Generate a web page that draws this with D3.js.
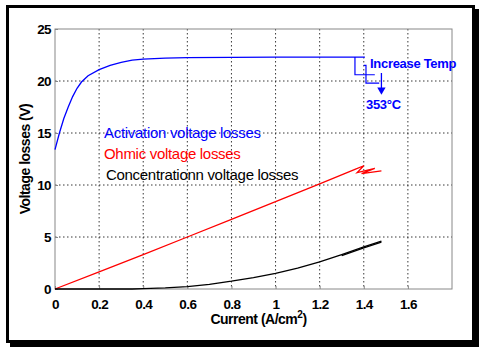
<!DOCTYPE html>
<html>
<head>
<meta charset="utf-8">
<script src="https://cdn.jsdelivr.net/npm/d3@7"></script>
<style>
  body { margin: 0; background: #fff; }
  svg text { font-family: "Liberation Sans", Arial, sans-serif; }
  .tick-label { font-weight: bold; font-size: 13.5px; letter-spacing: -0.6px; }
  .axis-title { font-weight: bold; font-size: 14px; letter-spacing: -0.5px; }
  .legend-text { font-size: 15px; letter-spacing: -0.3px; }
  .note { font-weight: bold; font-size: 13px; letter-spacing: -0.3px; }
</style>
</head>
<body>
<svg id="chart"></svg>
<script>
// current density (A/cm^2) and voltage losses (V)
const activationX = [0, 0.02, 0.04, 0.06, 0.08, 0.1, 0.12, 0.15, 0.2, 0.25, 0.3, 0.35, 0.4, 0.5, 0.6, 0.8, 1.0, 1.2, 1.405];
const activationY = [13.4, 15.0, 16.4, 17.5, 18.5, 19.3, 19.9, 20.5, 21.1, 21.5, 21.8, 22.0, 22.1, 22.2, 22.25, 22.28, 22.3, 22.3, 22.3];
// little step tails of the higher-temperature curves
const activationTail1X = [1.36, 1.36, 1.45];
const activationTail1Y = [22.3, 20.6, 20.6];
const activationTail2X = [1.40, 1.41, 1.41, 1.47];
const activationTail2Y = [21.5, 21.5, 19.8, 19.8];

const ohmicX = [0, 0.2, 0.4, 0.6, 0.8, 1.0, 1.2, 1.36, 1.40, 1.37, 1.45, 1.39, 1.48];
const ohmicY = [0, 1.65, 3.3, 5.0, 6.7, 8.4, 10.1, 11.5, 11.85, 11.2, 11.6, 11.1, 11.35];

const concX = [0, 0.35, 0.4, 0.5, 0.6, 0.7, 0.8, 0.9, 1.0, 1.1, 1.2, 1.3, 1.4, 1.48];
const concY = [0, 0, 0.03, 0.1, 0.22, 0.45, 0.75, 1.1, 1.5, 2.0, 2.6, 3.3, 4.05, 4.6];

const xTicks = [0, 0.2, 0.4, 0.6, 0.8, 1, 1.2, 1.4, 1.6];
const yTicks = [0, 5, 10, 15, 20, 25];

const legendItems = [
  {label: 'Activation voltage losses', color: '#0000ff'},
  {label: 'Ohmic voltage losses', color: '#ff0000'},
  {label: 'Concentrationn voltage losses', color: '#000000'}
];

const width = 480, height = 351;
const margin = {top: 29, right: 28, bottom: 62, left: 55};
const innerW = width - margin.left - margin.right;
const innerH = height - margin.top - margin.bottom;

const svg = d3.select('#chart')
  .attr('width', width)
  .attr('height', height);

// framed box with a shadow on the right / bottom
svg.append('rect')
  .attr('x', 10).attr('y', 9)
  .attr('width', 469).attr('height', 338)
  .attr('fill', '#000');
svg.append('rect')
  .attr('x', 7.5).attr('y', 6.5)
  .attr('width', 466).attr('height', 335)
  .attr('fill', '#fff')
  .attr('stroke', '#000')
  .attr('stroke-width', 3);

const x = d3.scaleLinear().domain([0, 1.8]).range([0, innerW]);
const y = d3.scaleLinear().domain([0, 25]).range([innerH, 0]);

const g = svg.append('g')
  .attr('transform', `translate(${margin.left},${margin.top})`);

// grid
g.append('g')
  .selectAll('line')
  .data(xTicks.filter(d => d > 0))
  .join('line')
  .attr('x1', d => x(d)).attr('x2', d => x(d))
  .attr('y1', 0).attr('y2', innerH)
  .attr('stroke', '#222')
  .attr('stroke-width', 0.9)
  .attr('stroke-dasharray', '1.5,2.5');

g.append('g')
  .selectAll('line')
  .data(yTicks.filter(d => d > 0 && d < 25))
  .join('line')
  .attr('x1', 0).attr('x2', innerW)
  .attr('y1', d => y(d)).attr('y2', d => y(d))
  .attr('stroke', '#222')
  .attr('stroke-width', 0.9)
  .attr('stroke-dasharray', '1.5,2.5');

// plot box
g.append('rect')
  .attr('width', innerW).attr('height', innerH)
  .attr('fill', 'none')
  .attr('stroke', '#888')
  .attr('stroke-width', 1);

// axes
const xAxis = g.append('g')
  .attr('transform', `translate(0,${innerH})`)
  .call(d3.axisBottom(x).tickValues(xTicks).tickSize(-3).tickPadding(7)
    .tickFormat(d => d3.format('~g')(d)));
const yAxis = g.append('g')
  .call(d3.axisLeft(y).tickValues(yTicks).tickSize(-3).tickPadding(4));

[xAxis, yAxis].forEach(a => {
  a.select('.domain').remove();
  a.selectAll('.tick line').attr('stroke', '#888');
  a.selectAll('.tick text')
    .attr('class', 'tick-label')
    .attr('fill', '#000');
});
xAxis.selectAll('.tick text').attr('dy', '0.95em');

// axis titles
const xTitle = svg.append('text')
  .attr('class', 'axis-title')
  .attr('x', margin.left + x(0.9) + 5)
  .attr('y', 324)
  .attr('text-anchor', 'middle');
xTitle.append('tspan').text('Current (A/cm');
xTitle.append('tspan').attr('dy', -6).attr('font-size', 10).text('2');
xTitle.append('tspan').attr('dy', 6).text(')');

svg.append('text')
  .attr('class', 'axis-title')
  .attr('transform', `translate(30,${margin.top + y(12.5)}) rotate(-90)`)
  .attr('text-anchor', 'middle')
  .text('Voltage losses (V)');

// curves
const line = d3.line()
  .x(d => x(d[0]))
  .y(d => y(d[1]));

const zip = (xs, ys) => xs.map((v, i) => [v, ys[i]]);

const curves = [
  {pts: zip(activationX, activationY), color: '#0000ff', w: 1.3},
  {pts: zip(activationTail1X, activationTail1Y), color: '#0000ff', w: 1.2},
  {pts: zip(activationTail2X, activationTail2Y), color: '#0000ff', w: 1.2},
  {pts: zip(ohmicX, ohmicY), color: '#ff0000', w: 1.3},
  {pts: zip(concX, concY), color: '#000000', w: 1.3},
  {pts: zip(concX.slice(11), concY.slice(11).map(v => v - 0.1)), color: '#000000', w: 1.3}
];

g.selectAll('.curve')
  .data(curves)
  .join('path')
  .attr('class', 'curve')
  .attr('d', d => line(d.pts))
  .attr('fill', 'none')
  .attr('stroke', d => d.color)
  .attr('stroke-width', d => d.w);

// legend labels
svg.selectAll('.legend-text')
  .data(legendItems)
  .join('text')
  .attr('class', 'legend-text')
  .attr('x', (d, i) => i === 2 ? 106 : 104)
  .attr('y', (d, i) => 138 + i * 21)
  .attr('fill', d => d.color)
  .text(d => d.label);

// temperature annotation
svg.append('text')
  .attr('class', 'note')
  .attr('x', 370).attr('y', 68)
  .attr('fill', '#0000ff')
  .text('Increase Temp');

svg.append('line')
  .attr('x1', margin.left + x(1.48)).attr('x2', margin.left + x(1.48))
  .attr('y1', 73).attr('y2', 88)
  .attr('stroke', '#0000ff')
  .attr('stroke-width', 1.3);
svg.append('path')
  .attr('d', d3.symbol(d3.symbolTriangle, 30)())
  .attr('transform', `translate(${margin.left + x(1.48)},90) rotate(180)`)
  .attr('fill', '#0000ff');

svg.append('text')
  .attr('class', 'note')
  .attr('x', 366).attr('y', 109)
  .attr('fill', '#0000ff')
  .text('353°C');
</script>
</body>
</html>
